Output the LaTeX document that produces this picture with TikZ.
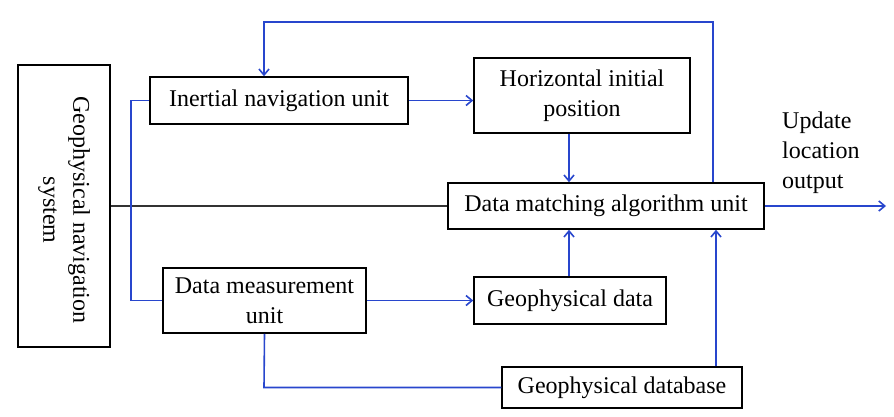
\documentclass[tikz,border=0pt]{standalone}
\usepackage{fontspec}
\setmainfont{Liberation Serif}
\usetikzlibrary{arrows.meta}
\definecolor{lblue}{RGB}{40,70,205}
\tikzset{
  txt/.style={font=\fontsize{24}{30}\selectfont},
  box/.style={draw=black, line width=1.5pt, inner sep=0pt, txt, align=center},
  bl/.style={draw=lblue, line width=1.6pt},
  arr/.style={bl, -{Straight Barb[length=6pt,width=10pt]}},
}
\begin{document}
\begin{tikzpicture}[x=1pt,y=-1pt]
\useasboundingbox (0,0) rectangle (894,416);
\node[box, minimum width=92, minimum height=282] (geo) at (64,206) {};
\node[txt, align=center, rotate=-90] (geot) at (64,210) {Geophysical navigation\\system};
\node[box, minimum width=258, minimum height=47] (ins) at (279,100.5) {Inertial navigation unit};
\node[box, minimum width=216, minimum height=75] (hip) at (582,95.5) {Horizontal initial\\position};
\node[box, minimum width=316, minimum height=46] (dma) at (606,206) {Data matching algorithm unit};
\node[box, minimum width=203, minimum height=65] (dmu) at (264.5,300.5) {Data measurement\\unit};
\node[box, minimum width=192, minimum height=47] (gd) at (570,300.5) {Geophysical data};
\node[box, minimum width=240, minimum height=41] (gdb) at (622,387.5) {Geophysical database};
\node[txt, align=left, anchor=north west, inner sep=0pt] (upd) at (782,112) {Update\\location\\output};
\coordinate (out) at (886,206);
\coordinate (c1) at (131,100.5);
\coordinate (c2) at (131,300.5);
\coordinate (t1) at (713,22);
\coordinate (t2) at (264,22);
\coordinate (b1) at (264,387.5);

\draw[line width=1.5pt, black!80] (geo.east) -- (dma.west);
\draw[bl] (ins.west) -- (c1) -- (c2) -- (dmu.west);
\draw[arr] (dma.north -| t1) -- (t1) -- (t2) -- (ins.north -| t2);
\draw[arr] (ins.east) -- (ins.east -| hip.west);
\draw[arr] (hip.south -| 569,0) -- (dma.north -| 569,0);
\draw[arr] (gd.north -| 569,0) -- (dma.south -| 569,0);
\draw[arr] (gdb.north -| 716,0) -- (dma.south -| 716,0);
\draw[arr] (dmu.east) -- (dmu.east -| gd.west);
\draw[bl] (dmu.south) -- (b1) -- (gdb.west);
\draw[arr] (dma.east) -- (out);
\end{tikzpicture}
\end{document}
